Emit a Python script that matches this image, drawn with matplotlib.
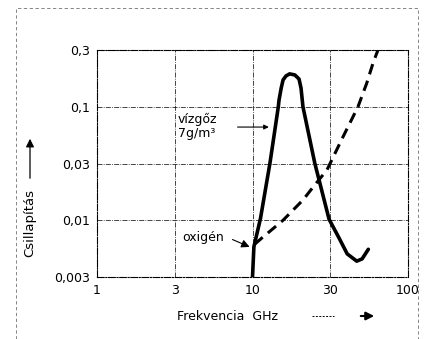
import numpy as np
import matplotlib
matplotlib.use("Agg")
import matplotlib.pyplot as plt
from matplotlib.patches import Rectangle

# tick values (the axes are drawn with equal spacing between these labels)
x_ticks = [1, 3, 10, 30, 100]
x_labels = ["1", "3", "10", "30", "100"]
y_ticks = [0.003, 0.01, 0.03, 0.1, 0.3]
y_labels = ["0,003", "0,01", "0,03", "0,1", "0,3"]

# water vapour (7 g/m3) attenuation
vapour_f = [10, 10.2, 11.2, 12.8, 14.4, 14.55, 15.0, 15.4, 16.05, 16.9, 18.2,
            19.3, 19.85, 20.4, 24.1, 29.5, 34.5, 39.0, 45.2, 49.1, 54.1]
vapour_a = [0.003, 0.0057, 0.0104, 0.0303, 0.1, 0.114, 0.1435, 0.168, 0.1815,
            0.189, 0.185, 0.171, 0.1435, 0.1, 0.0303, 0.0102, 0.0068, 0.0049,
            0.0042, 0.0044, 0.0054]

# oxygen attenuation
oxygen_f = [10.3, 11.4, 15.4, 20.4, 24.1, 28.6, 36.5, 46.1, 52.8, 58.2, 62.8]
oxygen_a = [0.0060, 0.00685, 0.01, 0.0148, 0.0198, 0.0264, 0.0526, 0.1, 0.158,
            0.233, 0.3]


def make_scale(ticks):
    logs = np.log10(ticks)
    idx = np.arange(len(ticks), dtype=float)

    def fwd(v):
        v = np.log10(np.clip(v, 1e-12, None))
        return np.interp(v, logs, idx)

    def inv(i):
        return 10 ** np.interp(i, idx, logs)
    return fwd, inv


fig = plt.figure(figsize=(4.27, 3.39), dpi=100)
ax = fig.add_axes([97 / 427, 1 - 277 / 339, 311 / 427, 227 / 339])

ax.set_xscale("function", functions=make_scale(x_ticks))
ax.set_yscale("function", functions=make_scale(y_ticks))
ax.set_xlim(1, 100)
ax.set_ylim(0.003, 0.3)
ax.set_xticks(x_ticks)
ax.set_xticklabels(x_labels)
ax.set_yticks(y_ticks)
ax.set_yticklabels(y_labels)
ax.minorticks_off()
ax.tick_params(length=0, labelsize=9, pad=5)

ax.grid(True, color="0.15", linestyle=(0, (6, 1.5, 1, 1.5)), linewidth=0.6)
for s in ax.spines.values():
    s.set_linestyle((0, (6, 1.5, 1, 1.5)))
    s.set_linewidth(0.8)

ax.plot(vapour_f, vapour_a, color="black", lw=2.6, solid_capstyle="round",
        solid_joinstyle="round")
ax.plot(oxygen_f, oxygen_a, color="black", lw=2.2, linestyle=(0, (3.5, 2.2)))

# labels with leaders
ax.text(3.15, 0.088, "vízgőz\n7g/m³", fontsize=9, va="top", ha="left",
        linespacing=1.1)
ax.annotate("", xy=(13.1, 0.065), xytext=(7.6, 0.065),
            arrowprops=dict(arrowstyle="-|>", color="black", lw=0.8,
                            mutation_scale=7))
ax.text(3.36, 0.0069, "oxigén", fontsize=9, va="center", ha="left")
ax.annotate("", xy=(9.95, 0.00555), xytext=(7.05, 0.0068),
            arrowprops=dict(arrowstyle="-|>", color="black", lw=0.8,
                            mutation_scale=12))

# axis titles with arrows
fig.text(30 / 427, 1 - 223 / 339, "Csillapítás", rotation=90, fontsize=9.5,
         ha="center", va="center")
ax.annotate("", xy=(30 / 427, 1 - 136 / 339), xytext=(30 / 427, 1 - 181 / 339),
            xycoords="figure fraction", textcoords="figure fraction",
            arrowprops=dict(arrowstyle="-|>", color="black", lw=0.9,
                            mutation_scale=12))
fig.text(177 / 427, 1 - 317 / 339, "Frekvencia  GHz", fontsize=9,
         ha="left", va="center")
fig.add_artist(plt.Line2D([312 / 427, 334 / 427], [1 - 316 / 339] * 2,
                          color="black", lw=0.7, linestyle=(0, (2, 1.5))))
ax.annotate("", xy=(377 / 427, 1 - 316 / 339), xytext=(358 / 427, 1 - 316 / 339),
            xycoords="figure fraction", textcoords="figure fraction",
            arrowprops=dict(arrowstyle="-|>", color="black", lw=1.5,
                            mutation_scale=12))

# faint frame of the scanned page
fig.add_artist(Rectangle((16 / 427, -0.05), 402 / 427, 1.05 - 8 / 339,
                         transform=fig.transFigure, fill=False,
                         edgecolor="0.45", lw=0.6, linestyle=(0, (4, 3))))

fig.savefig("out.png", dpi=100)
